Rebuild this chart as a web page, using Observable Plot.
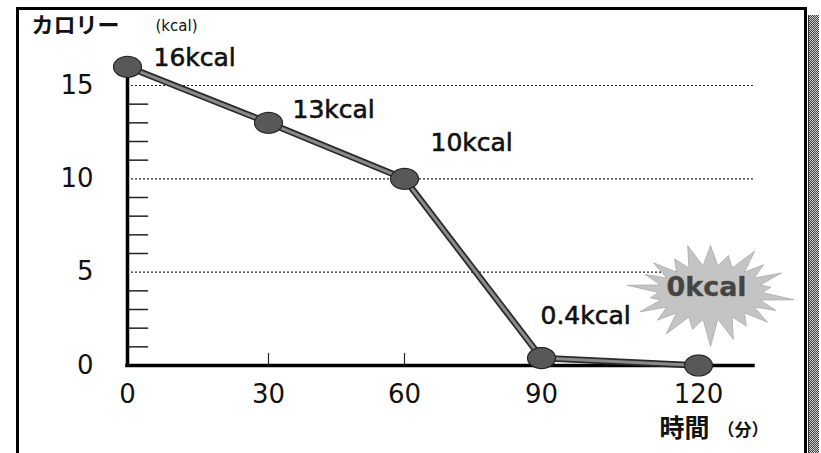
<!DOCTYPE html>
<html><head><meta charset="utf-8">
<script src="https://cdn.jsdelivr.net/npm/d3@7"></script>
<script src="https://cdn.jsdelivr.net/npm/@observablehq/plot@0.6"></script>
<style>
body{margin:0;background:#fff}
#wrap{position:relative;width:821px;height:453px;overflow:hidden;background:#fff}
#border{position:absolute;left:16px;top:7px;width:785px;height:470px;border:3px solid #000;border-bottom:none}
#shadow{position:absolute;left:808px;top:15px;width:10px;height:450px;background:repeating-conic-gradient(#444 0 25%,#ccc 0 50%) 0 0/2px 2px;border-left:1px solid #333}
#chart{position:absolute;left:0;top:0}
</style></head><body>
<div id="wrap"><div id="border"></div><div id="shadow"></div><div id="chart"></div></div>
<script>
// ---- data ----
const minutes = [0, 30, 60, 90, 120];
const kcal = [16, 13, 10, 0.4, 0];
const pointLabels = ["16kcal", "13kcal", "10kcal", "0.4kcal", "0kcal"];
const xTicks = [0, 30, 60, 90, 120];
const yTicks = [0, 5, 10, 15];
const yMinor = [1, 2, 3, 4, 6, 7, 8, 9, 11, 12, 13, 14];
const gridLines = [5, 10, 15];
const yTitle = "カロリー";
const yUnit = "(kcal)";
const xTitle = "時間";
const xUnit = "（分）";

const data = minutes.map((m, i) => ({minute: m, kcal: kcal[i], label: pointLabels[i]}));

// ---- symbols ----
const ellipse = {draw(ctx) {
  const n = 36, rx = 14, ry = 10.5;
  for (let i = 0; i < n; i++) {
    const a = 2 * Math.PI * i / n;
    const px = rx * Math.cos(a), py = ry * Math.sin(a);
    if (i === 0) ctx.moveTo(px, py); else ctx.lineTo(px, py);
  }
  ctx.closePath();
}};
const jag = [1, 0.82, 1.05, 0.9, 1.0, 0.78, 1.08, 0.92, 0.97, 0.85, 1.04];
const burst = {draw(ctx) {
  const n = 22;
  for (let i = 0; i < 2 * n; i++) {
    const a = i * Math.PI / n - Math.PI / 2;
    const outer = i % 2 === 0;
    let rx = outer ? 78 : 52, ry = outer ? 47 : 27;
    if (outer) { const j = jag[(i / 2) % jag.length]; rx *= j; ry *= j; }
    if (i === n) ry = 54;
    const px = rx * Math.cos(a), py = ry * Math.sin(a);
    if (i === 0) ctx.moveTo(px, py); else ctx.lineTo(px, py);
  }
  ctx.closePath();
}};

const labelFont = {fontFamily: "DejaVu Sans", fontSize: 25, fill: "#111", stroke: "#111", strokeWidth: 0.6};
const offsets = [[26, -9], [24, -13], [26, -36], [-1, -42]];

const chart = Plot.plot({
  width: 821, height: 453,
  marginLeft: 127, marginRight: 123, marginTop: 85, marginBottom: 88,
  x: {type: "linear", domain: [0, 30, 60, 90, 120], range: [127, 268, 404, 541, 698], axis: null},
  y: {domain: [0, 15], axis: null},
  style: {background: "transparent", overflow: "visible", fontFamily: "DejaVu Sans", color: "#111"},
  marks: [
    Plot.ruleY(gridLines, {x1: 0, x2: 130.5, stroke: "#222", strokeWidth: 1.2, strokeDasharray: "2,2"}),
    Plot.ruleY(yMinor, {x1: 0, x2: 4.5, stroke: "#222", strokeWidth: 1.5}),
    Plot.ruleX(xTicks.filter(d => d > 0 && d < 120), {y1: 0, y2: 0.65, stroke: "#222", strokeWidth: 1.2}),
    Plot.ruleX([0], {y1: 0, y2: 15.4, stroke: "#000", strokeWidth: 3.5, strokeLinecap: "square"}),
    Plot.ruleY([0], {x1: 0, x2: 130.5, stroke: "#000", strokeWidth: 3.5, strokeLinecap: "square"}),
    Plot.dot(data.slice(4), {x: "minute", y: "kcal", symbol: burst, dx: 12, dy: -73, fill: "#c4c4c4", stroke: "#9a9a9a", strokeWidth: 0.6}),
    Plot.line(data, {x: "minute", y: "kcal", stroke: "#2a2a2a", strokeWidth: 6.5}),
    Plot.line(data, {x: "minute", y: "kcal", stroke: "#8a8a8a", strokeWidth: 3}),
    Plot.dot(data, {x: "minute", y: "kcal", symbol: ellipse, fill: "#585858", stroke: "#262626", strokeWidth: 1.2}),
    ...offsets.map(([dx, dy], i) => Plot.text(data.slice(i, i + 1), {
      x: "minute", y: "kcal", text: "label", dx, dy, textAnchor: "start", lineAnchor: "middle", ...labelFont
    })),
    Plot.text(data.slice(4), {x: "minute", y: "kcal", text: "label", dx: 8, dy: -78, textAnchor: "middle", lineAnchor: "middle",
      fontFamily: "DejaVu Sans", fontWeight: "bold", fontSize: 27, fill: "#444", stroke: "#999", strokeWidth: 0.8}),
    Plot.text(yTicks, {x: 0, y: d => d, text: d => String(d), dx: -34, textAnchor: "end", lineAnchor: "middle",
      fontFamily: "DejaVu Sans", fontSize: 26, fill: "#111"}),
    Plot.text(xTicks, {x: d => d, y: 0, text: d => String(d), dy: 29, textAnchor: "middle", lineAnchor: "middle",
      fontFamily: "DejaVu Sans", fontSize: 26, fill: "#111"}),
    Plot.text([yTitle], {frameAnchor: "top-left", text: d => d, dx: -96, dy: -60, textAnchor: "start", lineAnchor: "middle",
      fontFamily: "Noto Sans CJK JP", fontWeight: "bold", fontSize: 22, fill: "#111", ariaLabel: "ytitle"}),
    Plot.text([yUnit], {frameAnchor: "top-left", text: d => d, dx: 28, dy: -59, textAnchor: "start", lineAnchor: "middle",
      fontFamily: "DejaVu Sans", fontSize: 15, fill: "#111", ariaLabel: "yunit"}),
    Plot.text([xTitle], {frameAnchor: "bottom-right", text: d => d, dx: -39, dy: 63, textAnchor: "start", lineAnchor: "middle",
      fontFamily: "Noto Sans CJK JP", fontWeight: "bold", fontSize: 25, fill: "#111", ariaLabel: "xtitle"}),
    Plot.text([xUnit], {frameAnchor: "bottom-right", text: d => d, dx: 19, dy: 65, textAnchor: "start", lineAnchor: "middle",
      fontFamily: "Noto Sans CJK JP", fontWeight: "bold", fontSize: 17, fill: "#111", ariaLabel: "xunit"})
  ]
});
document.getElementById("chart").appendChild(chart);
const sp = (lab, v) => chart.querySelectorAll(`g[aria-label="${lab}"] text`).forEach(t => t.style.letterSpacing = v);
sp("ytitle", "7px"); sp("yunit", "2px"); sp("xtitle", "8px");
</script>
</body></html>
